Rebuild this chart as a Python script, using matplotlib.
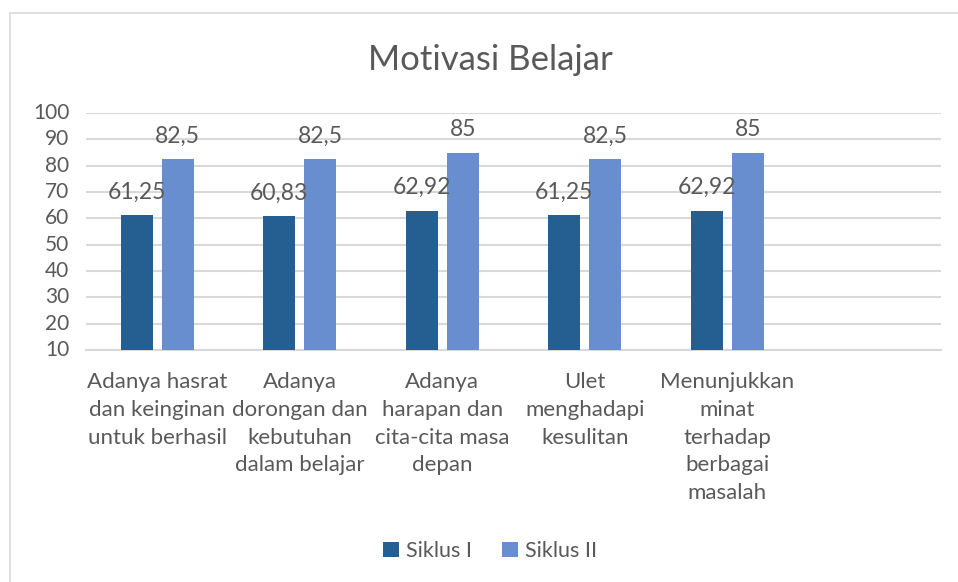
import matplotlib.pyplot as plt
import numpy as np
from matplotlib.patches import Rectangle

plt.rcParams["font.family"] = ["Lato", "DejaVu Sans"]

categories = [
    "Adanya hasrat\ndan keinginan\nuntuk berhasil",
    "Adanya\ndorongan dan\nkebutuhan\ndalam belajar",
    "Adanya\nharapan dan\ncita-cita masa\ndepan",
    "Ulet\nmenghadapi\nkesulitan",
    "Menunjukkan\nminat\nterhadap\nberbagai\nmasalah",
    "",
]
siklus_1 = [61.25, 60.83, 62.92, 61.25, 62.92, None]
siklus_2 = [82.5, 82.5, 85, 82.5, 85, None]
labels_1 = ["61,25", "60,83", "62,92", "61,25", "62,92"]
labels_2 = ["82,5", "82,5", "85", "82,5", "85"]
yticks = list(range(10, 101, 10))

W, H = 958, 582
fig = plt.figure(figsize=(W / 100, H / 100), dpi=100)
fig.patches.append(Rectangle((10 / W, -0.1), 1.2, 1 - 13 / H + 0.1, transform=fig.transFigure,
                             fill=False, edgecolor="#d9d9d9", lw=1.2))

ax = fig.add_axes([86 / W, 1 - 350 / H, (941 - 86) / W, (350 - 113) / H])
text_color = "#595959"
dark, light = "#255e91", "#698ed0"

x = np.arange(len(categories))
bw = 0.225
off = 0.144
n = len(labels_1)
v1 = np.array(siklus_1[:n], dtype=float)
v2 = np.array(siklus_2[:n], dtype=float)
b1 = ax.bar(x[:n] - off, v1 - 10, bw, bottom=10, color=dark, label="Siklus I", zorder=3)
b2 = ax.bar(x[:n] + off, v2 - 10, bw, bottom=10, color=light, label="Siklus II", zorder=3)

for i in range(n):
    ax.annotate(labels_1[i], (x[i] - off, v1[i]), xytext=(0, 12), textcoords="offset points",
                ha="center", va="baseline", fontsize=16.5, color=text_color)
    ax.annotate(labels_2[i], (x[i] + off, v2[i]), xytext=(0, 12), textcoords="offset points",
                ha="center", va="baseline", fontsize=16.5, color=text_color)

ax.set_xlim(-0.5, len(categories) - 0.5)
ax.set_ylim(10, 100)
ax.set_yticks(yticks)
ax.set_yticklabels([str(t) for t in yticks], fontsize=15, color=text_color)
ax.set_xticks(x)
ax.set_xticklabels(categories, fontsize=16, color=text_color, linespacing=1.48)
ax.tick_params(axis="both", length=0)
ax.tick_params(axis="x", pad=16)
ax.tick_params(axis="y", pad=12)
ax.grid(axis="y", color="#d9d9d9", lw=1.5, zorder=0)
for s in ["top", "right", "left"]:
    ax.spines[s].set_visible(False)
ax.spines["bottom"].set_color("#d9d9d9")
ax.spines["bottom"].set_linewidth(1.5)
for lab in ax.get_yticklabels():
    lab.set_verticalalignment("center")

fig.text(490 / W, 1 - 60 / H, "Motivasi Belajar", ha="center", va="center", fontsize=25, color=text_color)
fig.legend(handles=[b1, b2], loc="center", bbox_to_anchor=(490 / W, 1 - 551 / H), ncol=2, frameon=False,
           fontsize=15.5, handlelength=0.75, handleheight=0.75, handletextpad=0.3, columnspacing=1.4,
           labelcolor=text_color)

fig.savefig("out.png", dpi=100)
